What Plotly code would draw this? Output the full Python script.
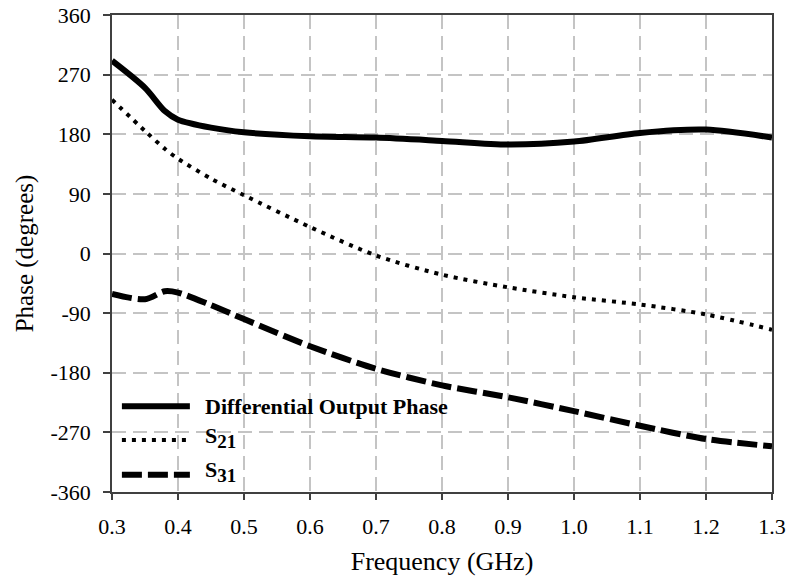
import plotly.graph_objects as go

freq = [0.3, 0.35, 0.38, 0.4, 0.45, 0.5, 0.6, 0.7, 0.8, 0.9, 1.0, 1.1, 1.2, 1.3]
diff_phase = [291, 250, 215, 202, 190, 183, 177, 175, 170, 164.5, 169, 182, 187, 175]
s21 = [232, 185, 158, 143, 113, 88, 40, -3, -32, -51, -66, -77, -92, -115]
s31 = [-61, -69, -57, -59, -78, -99, -140, -174, -199, -217, -238, -260, -280, -291]

x_ticks = [0.3, 0.4, 0.5, 0.6, 0.7, 0.8, 0.9, 1.0, 1.1, 1.2, 1.3]
y_ticks = [360, 270, 180, 90, 0, -90, -180, -270, -360]
y_tick_text = ["360", "270", "180", "90", "0", "-90", "-180", "-270", "-360"]

legend_names = ["Differential Output Phase",
                "S<sub><span style='font-size:19px'>21</span></sub>",
                "S<sub><span style='font-size:19px'>31</span></sub>"]

font = "Liberation Serif, Times New Roman, serif"

fig = go.Figure()
styles = [dict(width=6, dash="solid"), dict(width=4, dash="4px,6px"), dict(width=6, dash="20px,6px")]
for ys, st in zip([diff_phase, s21, s31], styles):
    fig.add_trace(go.Scatter(x=freq, y=ys, mode="lines",
                             line=dict(color="black", shape="spline", smoothing=0.8, **st),
                             showlegend=False, hoverinfo="skip"))

# custom legend
rows = [0.180, 0.109, 0.036]
text_off = [0.0, 0.006, 0.006]
for yy, off, st, name in zip(rows, text_off, styles, legend_names):
    fig.add_shape(type="line", xref="paper", yref="paper", x0=0.015, x1=0.118, y0=yy, y1=yy,
                  line=dict(color="black", **st))
    fig.add_annotation(xref="paper", yref="paper", x=0.138, y=yy + off,
                       text="<b>" + name + "</b>", showarrow=False, xanchor="left", yanchor="middle",
                       font=dict(family=font, size=22, color="black"))

fig.update_layout(
    width=787, height=586,
    margin=dict(l=112, r=15, t=15, b=94, autoexpand=False),
    paper_bgcolor="white", plot_bgcolor="white",
    font=dict(family=font, size=22, color="black"),
)
fig.update_xaxes(range=[0.3, 1.3], tickvals=x_ticks, tickformat=".1f",
                 showline=True, linecolor="#404040", linewidth=1.5, mirror=True,
                 ticks="outside", ticklen=6, tickcolor="#404040", tickwidth=1.5,
                 showgrid=True, gridcolor="#c4c4c4", gridwidth=1.5, griddash="14px,7px",
                 zeroline=False, ticklabelstandoff=8,
                 title=dict(text="Frequency (GHz)", font=dict(size=26), standoff=14),
                 tickfont=dict(size=22))
fig.update_yaxes(range=[-360, 360], tickvals=y_ticks, ticktext=y_tick_text,
                 showline=True, linecolor="#404040", linewidth=1.5, mirror=True,
                 ticks="outside", ticklen=7, tickcolor="#404040", tickwidth=1.5,
                 showgrid=True, gridcolor="#c4c4c4", gridwidth=1.5, griddash="14px,7px",
                 zeroline=False, ticklabelstandoff=8,
                 title=dict(text="Phase (degrees)", font=dict(size=25), standoff=10),
                 tickfont=dict(size=22))

fig.write_html("out.html", config={"displayModeBar": False},
               post_script="document.body.style.margin='0';")
